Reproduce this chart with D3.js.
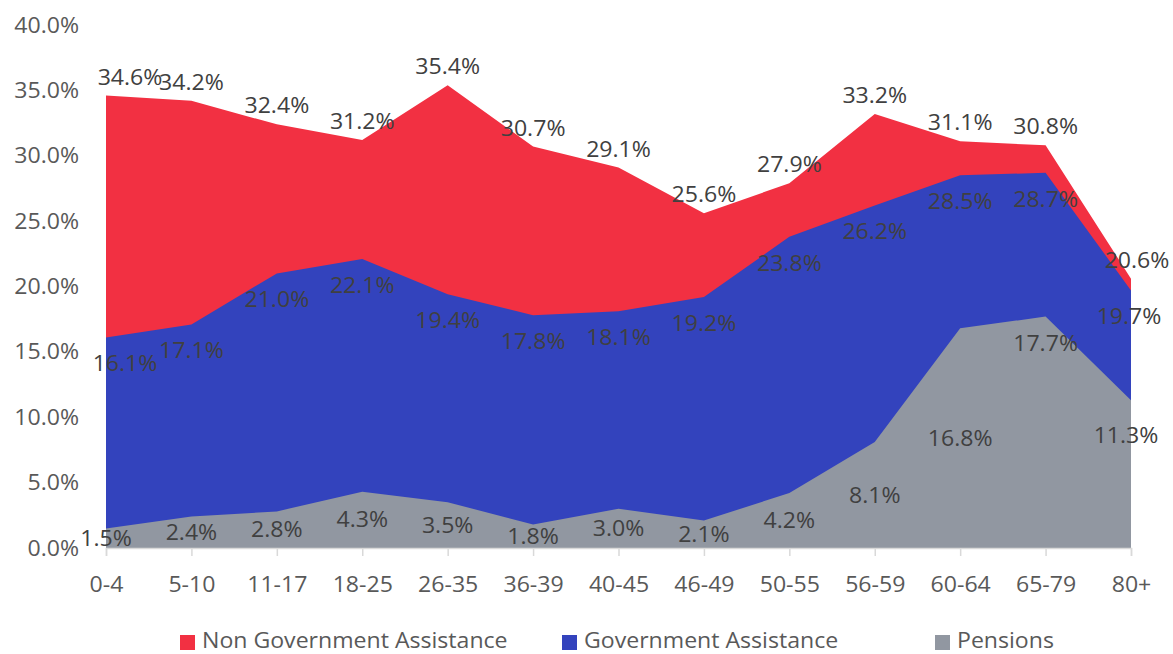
<!DOCTYPE html>
<html>
<head>
<meta charset="utf-8">
<script src="https://cdn.jsdelivr.net/npm/d3@7/dist/d3.min.js"></script>
<style>
  html, body { margin: 0; padding: 0; background: #fff; }
  svg text { font-family: "Open Sans", "Noto Sans", sans-serif; font-size: 21px; }
</style>
</head>
<body>
<svg id="chart" width="1173" height="654"></svg>
<script>
// age groups
const categories = ['0-4', '5-10', '11-17', '18-25', '26-35', '36-39', '40-45', '46-49', '50-55', '56-59', '60-64', '65-79', '80+'];

// share of each group (%)
const nonGovernment = [34.6, 34.2, 32.4, 31.2, 35.4, 30.7, 29.1, 25.6, 27.9, 33.2, 31.1, 30.8, 20.6];
const government    = [16.1, 17.1, 21.0, 22.1, 19.4, 17.8, 18.1, 19.2, 23.8, 26.2, 28.5, 28.7, 19.7];
const pensions      = [1.5, 2.4, 2.8, 4.3, 3.5, 1.8, 3.0, 2.1, 4.2, 8.1, 16.8, 17.7, 11.3];

const yTicks = [0, 5, 10, 15, 20, 25, 30, 35, 40];

const series = [
  { name: 'Non Government Assistance', values: nonGovernment, color: '#f23042' },
  { name: 'Government Assistance', values: government, color: '#3343bd' },
  { name: 'Pensions', values: pensions, color: '#9197a1' }
];

// 原图文字横向略宽
const STRETCH = 1.1;

const svg = d3.select('#chart');

const x = d3.scalePoint().domain(categories).range([106, 1131]);
const y = d3.scaleLinear().domain([0, 40]).range([548, 25]);

// 放一个横向拉伸的文字
function putText(parent, px, py, str, anchor, fill) {
  return parent.append('text')
    .attr('transform', `translate(${px},${py}) scale(${STRETCH},1)`)
    .attr('text-anchor', anchor)
    .attr('fill', fill)
    .text(str);
}

// 面积（不堆叠，后画的盖住前面的）
const area = d3.area()
  .x((d, i) => x(categories[i]))
  .y0(y(0))
  .y1(d => y(d));

series.forEach(s => {
  svg.append('path')
    .datum(s.values)
    .attr('d', area)
    .attr('fill', s.color);
});

// x 轴
const xAxis = svg.append('g')
  .attr('transform', `translate(0,${y(0)})`)
  .call(d3.axisBottom(x).tickSize(8).tickPadding(0));
xAxis.select('.domain').attr('stroke', '#d9d9d9').attr('stroke-width', 1.5);
xAxis.selectAll('.tick line').attr('stroke', '#d9d9d9').attr('stroke-width', 1.5);
xAxis.selectAll('.tick text')
  .attr('y', 44)
  .attr('dy', null)
  .attr('transform', `scale(${STRETCH},1)`)
  .attr('fill', '#595959')
  .style('font-size', '21px');

// y 轴标签
const yLabels = svg.append('g');
yTicks.forEach(t => {
  putText(yLabels, 79, y(t) + 7.5, t.toFixed(1) + '%', 'end', '#595959');
});

// 数据标签
const fmt = v => v.toFixed(1) + '%';
const labels = svg.append('g');
const last = categories.length - 1;

nonGovernment.forEach((v, i) => {
  let dx = 0;
  if (i === 0) dx = 24;
  if (i === last) dx = 6;
  putText(labels, x(categories[i]) + dx, y(v) - 11, fmt(v), 'middle', '#404040');
});

government.forEach((v, i) => {
  let dx = 0;
  if (i === 0) dx = 19;
  if (i === last) dx = -2;
  putText(labels, x(categories[i]) + dx, y(v) + 34, fmt(v), 'middle', '#404040');
});

// 养老金标签大多在面积中间，最后两个被手动挪过
pensions.forEach((v, i) => {
  let ly = y(v / 2);
  let dx = 0;
  if (categories[i] === '65-79') ly = y(v) + 27;
  if (categories[i] === '80+') { ly = y(v) + 35; dx = -5; }
  putText(labels, x(categories[i]) + dx, ly + 7.5, fmt(v), 'middle', '#404040');
});

// 图例
const legendX = [180, 562, 935];
const legend = svg.append('g');
series.forEach((s, i) => {
  legend.append('rect')
    .attr('x', legendX[i])
    .attr('y', 635)
    .attr('width', 15)
    .attr('height', 15)
    .attr('fill', s.color);
  putText(legend, legendX[i] + 22, 648, s.name, 'start', '#595959');
});
</script>
</body>
</html>
